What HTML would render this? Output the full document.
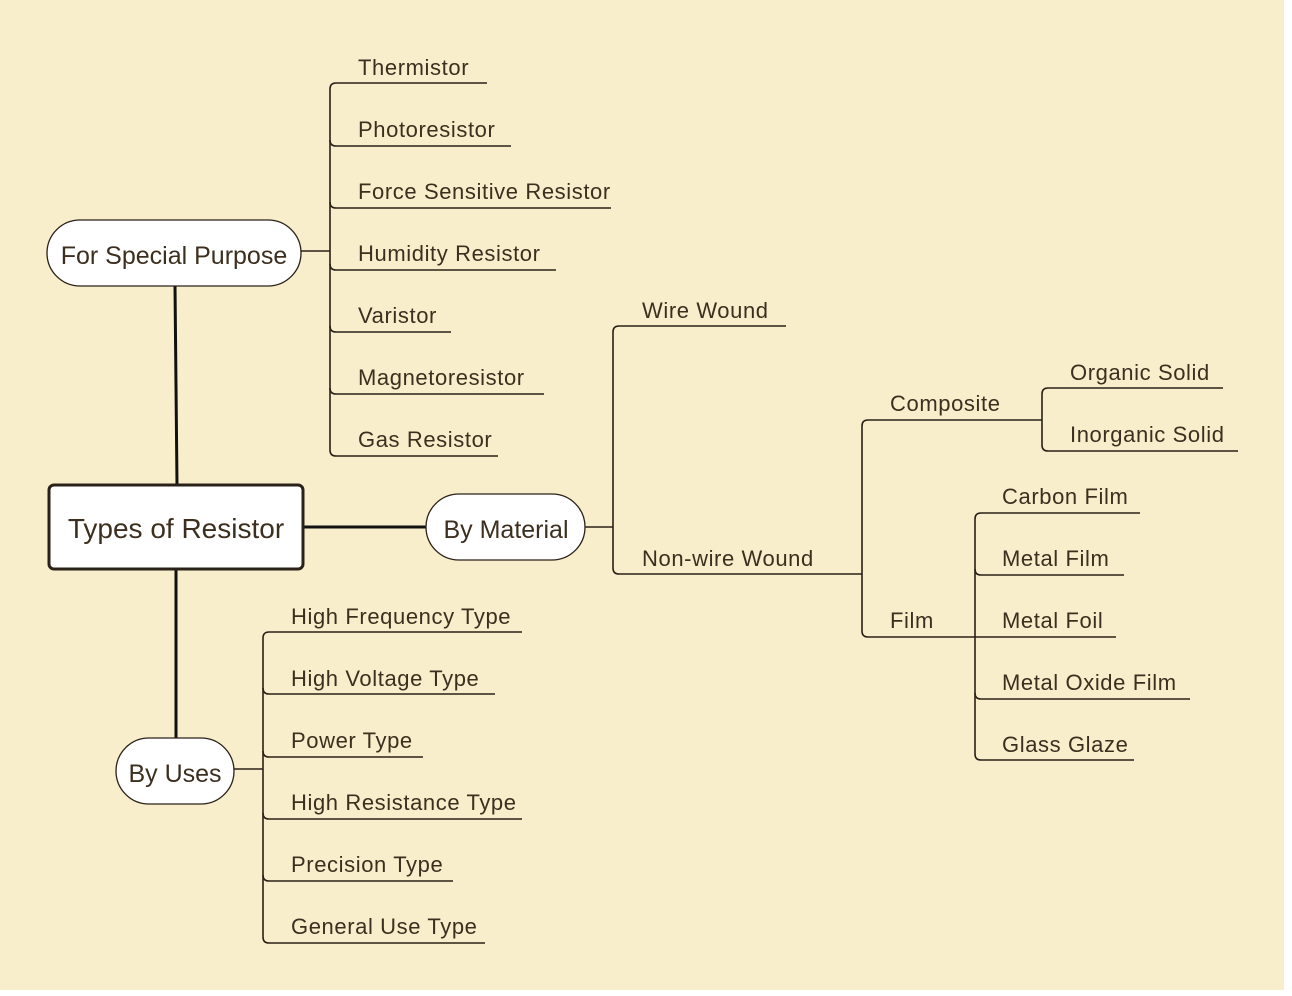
<!DOCTYPE html>
<html><head><style>
body{margin:0;background:#fff;}
svg{display:block;}
text{font-family:"Liberation Sans",sans-serif;fill:#3d2f1f;}
</style></head><body>
<svg width="1292" height="996" viewBox="0 0 1292 996">
<rect x="0" y="0" width="1284" height="990" fill="#f8eecb"/>
<g stroke="#2a2118" stroke-width="1.6" fill="none">
<path d="M301 251H330"/>
<path d="M487 83H336Q330 83 330 89V450Q330 456 336 456H498"/>
<path d="M330 140Q330 146 336 146H511"/>
<path d="M330 202Q330 208 336 208H611"/>
<path d="M330 264Q330 270 336 270H556"/>
<path d="M330 326Q330 332 336 332H451"/>
<path d="M330 388Q330 394 336 394H544"/>
<path d="M234 769H263"/>
<path d="M522 632H269Q263 632 263 638V937Q263 943 269 943H485"/>
<path d="M263 688Q263 694 269 694H495"/>
<path d="M263 751Q263 757 269 757H423"/>
<path d="M263 813Q263 819 269 819H522"/>
<path d="M263 875Q263 881 269 881H453"/>
<path d="M585 527H613"/>
<path d="M786 326H619Q613 326 613 332V568Q613 574 619 574H862"/>
<path d="M1042 420H868Q862 420 862 426V631Q862 637 868 637H975"/>
<path d="M1223 388H1048Q1042 388 1042 394V445Q1042 451 1048 451H1238"/>
<path d="M1140 513H981Q975 513 975 519V754Q975 760 981 760H1134"/>
<path d="M975 569Q975 575 981 575H1124"/>
<path d="M975 637H1116"/>
<path d="M975 693Q975 699 981 699H1190"/>
</g>
<g stroke="#111" stroke-width="3" fill="none">
<path d="M175 286L177 485"/>
<path d="M303 527H426"/>
<path d="M176 569V738"/>
</g>
<g fill="#fff" stroke="#2a2118">
<rect x="47" y="220" width="254" height="66" rx="33" stroke-width="1.3"/>
<rect x="426" y="494" width="159" height="66" rx="33" stroke-width="1.3"/>
<rect x="116" y="738" width="118" height="66" rx="33" stroke-width="1.3"/>
<rect x="49" y="485" width="254" height="84" rx="5" stroke-width="3"/>
</g>
<text x="174" y="264" font-size="25" text-anchor="middle">For Special Purpose</text>
<text x="176" y="538" font-size="28" text-anchor="middle">Types of Resistor</text>
<text x="506" y="538" font-size="25" text-anchor="middle">By Material</text>
<text x="175" y="782" font-size="25" text-anchor="middle">By Uses</text>
<g font-size="22" letter-spacing="0.6">
<text x="358" y="75">Thermistor</text>
<text x="358" y="137">Photoresistor</text>
<text x="358" y="199">Force Sensitive Resistor</text>
<text x="358" y="261">Humidity Resistor</text>
<text x="358" y="323">Varistor</text>
<text x="358" y="385">Magnetoresistor</text>
<text x="358" y="447">Gas Resistor</text>
<text x="291" y="624">High Frequency Type</text>
<text x="291" y="686">High Voltage Type</text>
<text x="291" y="748">Power Type</text>
<text x="291" y="810">High Resistance Type</text>
<text x="291" y="872">Precision Type</text>
<text x="291" y="934">General Use Type</text>
<text x="642" y="318">Wire Wound</text>
<text x="642" y="566">Non-wire Wound</text>
<text x="890" y="411">Composite</text>
<text x="890" y="628">Film</text>
<text x="1070" y="380">Organic Solid</text>
<text x="1070" y="442">Inorganic Solid</text>
<text x="1002" y="504">Carbon Film</text>
<text x="1002" y="566">Metal Film</text>
<text x="1002" y="628">Metal Foil</text>
<text x="1002" y="690">Metal Oxide Film</text>
<text x="1002" y="752">Glass Glaze</text>
</g>
</svg>
</body></html>
